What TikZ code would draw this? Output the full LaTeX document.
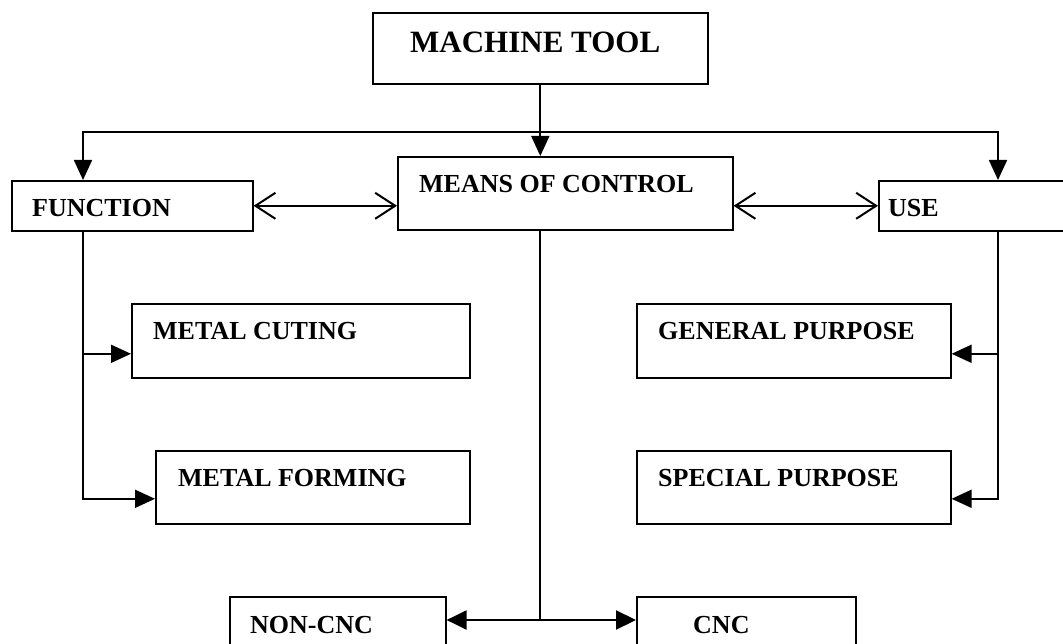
\documentclass[tikz,border=0pt]{standalone}
\usepackage{fontspec}
\setmainfont{Liberation Serif}
\usetikzlibrary{arrows.meta}
\begin{document}
\begin{tikzpicture}[x=1pt,y=-1pt,
  boxnode/.style={draw, line width=1.6pt, inner sep=0pt, anchor=north west},
  lbl/.style={anchor=base west, inner sep=0pt, font=\fontsize{26}{30}\selectfont\bfseries},
  conn/.style={line width=1.7pt},
  arr/.style={conn, -{Triangle[length=20pt,width=18pt]}},
  dbl/.style={line width=2pt,
    {Straight Barb[length=20pt,width=26pt]}-{Straight Barb[length=20pt,width=26pt]}},
  fork/.style={line width=2.2pt, -{Triangle[length=20pt,width=19pt]}}]
\useasboundingbox (0,0) rectangle (1063,644);

% boxes
\node[boxnode, minimum width=335pt, minimum height=71pt] (mt)  at (372,12)  {};
\node[boxnode, minimum width=335pt, minimum height=73pt] (moc) at (397,156) {};
\node[boxnode, minimum width=241pt, minimum height=50pt] (fn)  at (11,180)  {};
\node[boxnode, minimum width=200pt, minimum height=50pt] (use) at (878,180) {};
\node[boxnode, minimum width=338pt, minimum height=74pt] (mc)  at (131,303) {};
\node[boxnode, minimum width=314pt, minimum height=73pt] (mf)  at (155,450) {};
\node[boxnode, minimum width=314pt, minimum height=74pt] (gp)  at (636,303) {};
\node[boxnode, minimum width=314pt, minimum height=73pt] (sp)  at (636,450) {};
\node[boxnode, minimum width=216pt, minimum height=60pt] (nc)  at (229,596) {};
\node[boxnode, minimum width=219pt, minimum height=60pt] (cnc) at (636,596) {};

% labels
\node[lbl, font=\fontsize{31}{36}\selectfont\bfseries] (mtT) at (410,53) {MACHINE TOOL};
\node[lbl] (mocT) at (419,193) {MEANS OF CONTROL};
\node[lbl] (fnT)  at (32,217)  {FUNCTION};
\node[lbl] (useT) at (888,217) {USE};
\node[lbl] (mcT)  at (153,339) {METAL CUTING};
\node[lbl] (mfT)  at (178,486) {METAL FORMING};
\node[lbl] (gpT)  at (658,339) {GENERAL PURPOSE};
\node[lbl] (spT)  at (658,486) {SPECIAL PURPOSE};
\node[lbl] (ncT)  at (250,633) {NON-CNC};
\node[lbl] (cncT) at (693,633) {CNC};

% top distribution
\coordinate (split) at (mt.south |- 0,132);
\draw[arr] (mt.south) -- (mt.south |- moc.north);
\draw[arr] (split) -| ([xshift=72pt]fn.north west);
\draw[arr] (split) -| ([xshift=120pt]use.north west);

% links between the three categories
\draw[dbl] (fn.east) -- (fn.east -| moc.west);
\draw[dbl] (moc.east |- use.west) -- (use.west);

% function branch
\coordinate (fv) at ([xshift=72pt]fn.south west);
\draw[arr] (fv) |- ([yshift=-13pt]mc.west);
\draw[arr] (fv) |- ([yshift=-11.5pt]mf.west);

% use branch
\coordinate (uv) at ([xshift=120pt]use.south west);
\draw[arr] (uv) |- ([yshift=-13pt]gp.east);
\draw[arr] (uv) |- ([yshift=-11.5pt]sp.east);

% means of control branch
\coordinate (mv) at (mt.south |- moc.south);
\coordinate (mj) at (mt.south |- 0,620);
\draw[conn] (mv) -- (mj);
\draw[fork] (mj) -- (mj -| nc.east);
\draw[fork] (mj) -- (mj -| cnc.west);
\end{tikzpicture}
\end{document}
